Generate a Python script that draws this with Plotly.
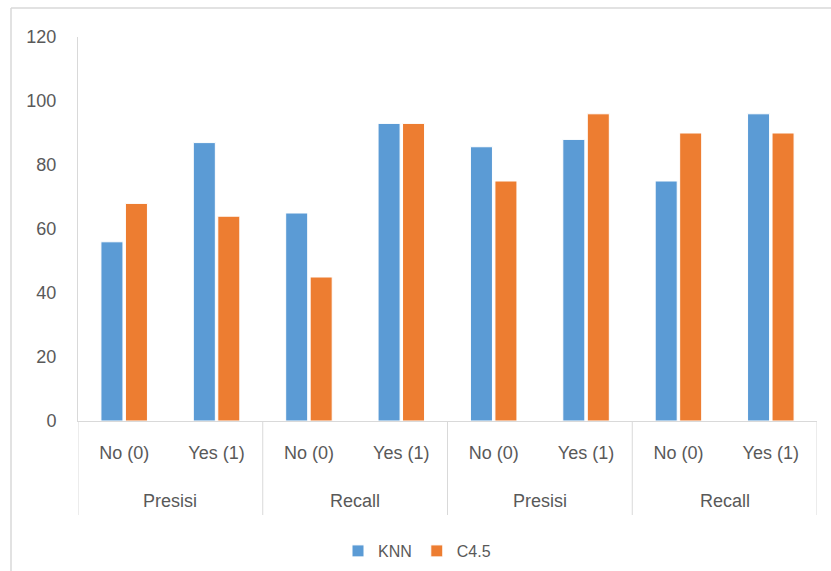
import plotly.graph_objects as go

# Classification results per metric and class
groups = ["Presisi", "Recall", "Presisi", "Recall"]
classes = ["No (0)", "Yes (1)"]
knn = [56, 87, 65, 93, 85.7, 88, 75, 96]
c45 = [68, 64, 45, 93, 75, 96, 90, 90]
y_ticks = [0, 20, 40, 60, 80, 100, 120]

inner_labels = [c for _ in groups for c in classes]
xs = list(range(len(inner_labels)))

FONT = "Liberation Sans, Arial, sans-serif"
TEXT = "#595959"
LINE = "#d9d9d9"

fig = go.Figure()
fig.add_trace(go.Bar(x=xs, y=knn, name="KNN",
                     marker=dict(color="#5B9BD5", line=dict(color="white", width=1))))
fig.add_trace(go.Bar(x=xs, y=c45, name="C4.5",
                     marker=dict(color="#ED7D31", line=dict(color="white", width=1))))

L, R, T, B = 78, 14, 37, 150
W, H = 831, 571
plot_h = H - T - B

# outer category labels and group dividers
n_inner = len(classes)
for gi, g in enumerate(groups):
    center = gi * n_inner + (n_inner - 1) / 2
    fig.add_annotation(x=center, xref="x", y=0, yref="paper", yshift=-80,
                       text=g, showarrow=False, yanchor="middle",
                       font=dict(family=FONT, size=18, color=TEXT))
for k in range(len(groups) + 1):
    xd = k * n_inner - 0.5
    fig.add_shape(type="line", xref="x", yref="paper", x0=xd, x1=xd,
                  y0=0, y1=-(515 - (H - B)) / plot_h,
                  line=dict(color=LINE, width=1))

# chart frame
fx = (11 - L) / (W - L - R)
fy = ((H - B) - 8) / plot_h
fig.add_shape(type="line", xref="paper", yref="paper", x0=fx, x1=1.2, y0=fy, y1=fy,
              line=dict(color=LINE, width=1.5))
fig.add_shape(type="line", xref="paper", yref="paper", x0=fx, x1=fx, y0=fy, y1=-1,
              line=dict(color=LINE, width=1.5))

fig.update_layout(
    width=W, height=H,
    margin=dict(l=L, r=R, t=T, b=B, autoexpand=False),
    paper_bgcolor="white", plot_bgcolor="white",
    barmode="group", bargap=0.47, bargroupgap=0.1,
    font=dict(family=FONT, size=18, color=TEXT),
    showlegend=True,
    legend=dict(orientation="h", x=(417 - L) / (W - L - R), xanchor="center",
                y=-(551 - (H - B)) / plot_h, yanchor="middle",
                font=dict(family=FONT, size=16, color=TEXT),
                itemwidth=30, traceorder="normal", tracegroupgap=0),
    xaxis=dict(range=[-0.5, len(xs) - 0.5], tickmode="array", tickvals=xs,
               ticktext=inner_labels, showline=True, linecolor=LINE, linewidth=1,
               showgrid=False, zeroline=False, ticks="", ticklabelstandoff=15,
               tickfont=dict(family=FONT, size=18, color=TEXT)),
    yaxis=dict(range=[0, 120], tickmode="array", tickvals=y_ticks,
               showline=True, linecolor=LINE, linewidth=1, showgrid=False,
               zeroline=False, ticks="", ticklabelstandoff=17,
               tickfont=dict(family=FONT, size=18, color=TEXT)),
)

fig.write_html("out.html")
